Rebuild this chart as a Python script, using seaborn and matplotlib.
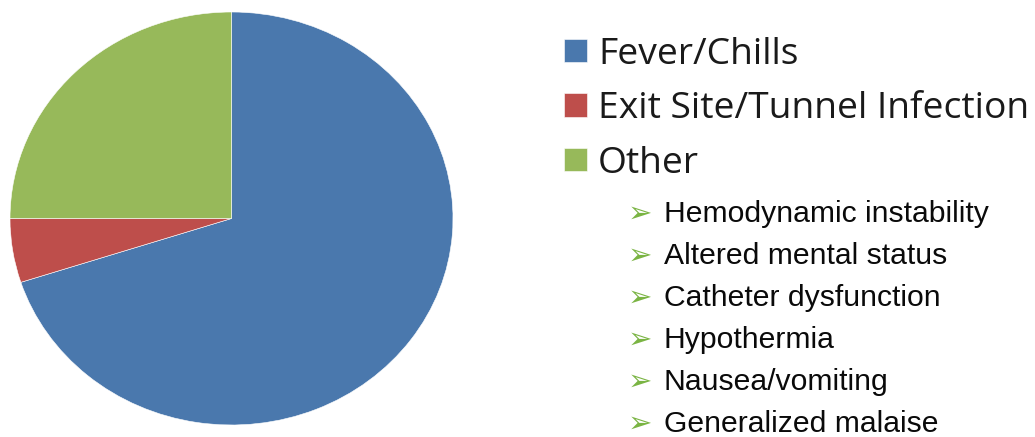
import matplotlib.pyplot as plt
import seaborn as sns

# DATA
categories = ["Fever/Chills", "Exit Site/Tunnel Infection", "Other"]
shares = [70, 5, 25]
colors = ["#4A78AD", "#BE4E4B", "#97B95A"]
other_items = [
    "Hemodynamic instability",
    "Altered mental status",
    "Catheter dysfunction",
    "Hypothermia",
    "Nausea/vomiting",
    "Generalized malaise",
]

sns.set_theme(style="white")
plt.rcParams["font.family"] = ["Open Sans", "DejaVu Sans"]

W, H = 1035, 437
fig = plt.figure(figsize=(W / 100, H / 100), dpi=100)

# PIE (slightly wider than tall, like the source)
ax = fig.add_axes([10 / W, 12 / H, 443 / W, 413 / H])
wedges, _ = ax.pie(
    shares,
    colors=colors,
    startangle=90,
    counterclock=False,
    wedgeprops=dict(edgecolor="white", linewidth=0.4),
)
ax.set_aspect("auto")
ax.set_xlim(-1, 1)
ax.set_ylim(-1, 1)

# LEGEND
leg_fs = 26.8
leg_px = leg_fs * 100 / 72
leg = fig.legend(
    wedges,
    categories,
    loc="upper left",
    bbox_to_anchor=(564 / W, 1 - 36.5 / H),
    frameon=False,
    fontsize=leg_fs,
    handlelength=23 / leg_px,
    handleheight=22 / leg_px,
    handletextpad=0.3,
    labelspacing=0.5,
    borderpad=0,
    borderaxespad=0,
)
for t in leg.get_texts():
    t.set_color("#1a1a1a")

# SUB-ITEMS OF "OTHER"
for i, item in enumerate(other_items):
    y = 1 - (222 + i * 42) / H
    fig.text(628 / W, y, "\u27a2", color="#7AB443", fontsize=21,
             family="DejaVu Sans", va="baseline")
    fig.text(664 / W, y, item, color="#0a0a0a", fontsize=21.7,
             family="Liberation Sans", va="baseline")

fig.savefig("out.png", dpi=100)
